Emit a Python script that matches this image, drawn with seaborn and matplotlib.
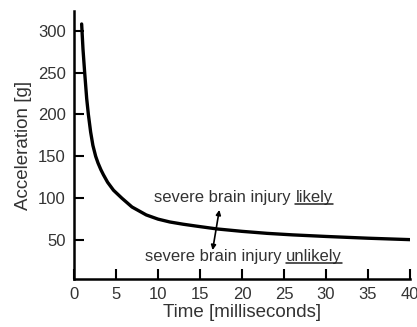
import numpy as np
import pandas as pd
import matplotlib
matplotlib.use("Agg")
import matplotlib.pyplot as plt
import seaborn as sns
from matplotlib.lines import Line2D

# Data (Wayne State tolerance curve)
time_ms = [0.91, 1.07, 1.27, 1.51, 1.71, 1.98, 2.25, 2.58, 2.86, 3.2, 3.5, 4.0,
           4.7, 5.7, 6.9, 8.6, 10, 11.4, 13, 14.6, 17, 20, 23, 26, 30, 35, 40]
accel_g = [308, 278, 250, 219, 200, 179, 163, 150, 142, 134, 128, 119, 109.5,
           100, 89.5, 80, 75, 71.6, 68.9, 66.6, 63.3, 60.4, 58, 56.2, 54.3, 52.2, 50.5]
x_ticks = [0, 5, 10, 15, 20, 25, 30, 35, 40]
y_ticks = [50, 100, 150, 200, 250, 300]
label_likely = ("severe brain injury", "likely")
label_unlikely = ("severe brain injury", "unlikely")

df = pd.DataFrame({"time": time_ms, "accel": accel_g})

sns.set_style("ticks")
plt.rcParams["font.family"] = ["Liberation Sans", "DejaVu Sans"]
txt_color = "#333333"

fig = plt.figure(figsize=(4.17, 3.27), dpi=100)
ax = fig.add_axes([74 / 417, 1 - 279 / 327, (410 - 74) / 417, (279 - 11) / 327])

sns.lineplot(data=df, x="time", y="accel", ax=ax, color="black", lw=2.4,
             sort=False, estimator=None)

ax.set_xlim(0, 40)
ax.set_ylim(3.5, 323.5)
ax.set_xticks(x_ticks)
ax.set_yticks(y_ticks)
ax.tick_params(direction="in", length=7, width=1.5, colors="black",
               labelcolor=txt_color, labelsize=12, pad=6)
for s in ["top", "right"]:
    ax.spines[s].set_visible(False)
for s in ["left", "bottom"]:
    ax.spines[s].set_linewidth(1.8)
    ax.spines[s].set_color("black")

ax.set_xlabel("Time [milliseconds]", fontsize=13.5, color=txt_color, labelpad=1)
ax.set_ylabel("Acceleration [g]", fontsize=13.5, color=txt_color, labelpad=4)

def two_part(xb, yb, parts):
    ax.text(xb, yb, parts[0], ha="right", va="baseline", fontsize=12,
            color=txt_color)
    b = ax.annotate(parts[1], xy=(xb, yb), xytext=(3.4, 0),
                    textcoords="offset points", ha="left", va="baseline",
                    fontsize=12, color=txt_color)
    return b

w1 = two_part(25.8, 95.5, label_likely)
w2 = two_part(24.7, 25.0, label_unlikely)

ax.annotate("", xy=(17.3, 86), xytext=(16.5, 38),
            arrowprops=dict(arrowstyle="<|-|>", color="black", lw=1.2,
                            mutation_scale=7, shrinkA=0, shrinkB=0))

fig.canvas.draw()
inv = fig.transFigure.inverted()
for w in (w1, w2):
    bb = w.get_window_extent()
    base_disp = ax.transData.transform(w.xy)[1]
    yl = base_disp - 2.0
    p0 = inv.transform((bb.x0, yl))
    p1 = inv.transform((bb.x1, yl))
    fig.add_artist(Line2D([p0[0], p1[0]], [p0[1], p1[1]], color="#222222",
                          lw=1.1, transform=fig.transFigure))

fig.savefig("out.png", dpi=100)
